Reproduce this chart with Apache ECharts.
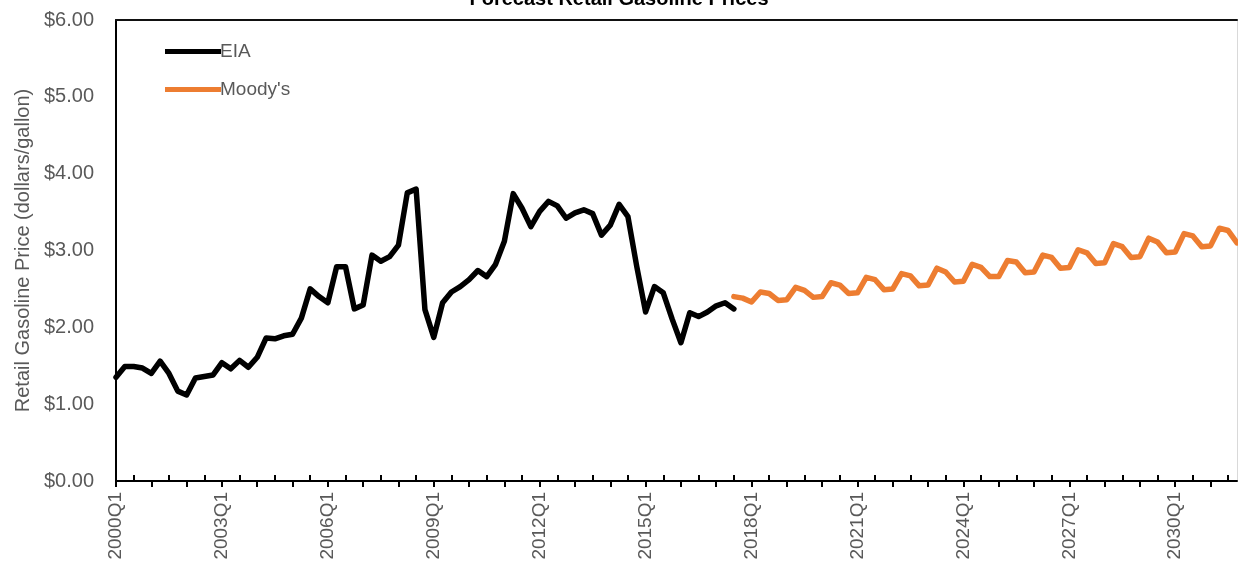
<!DOCTYPE html>
<html>
<head>
<meta charset="utf-8">
<script src="https://cdn.jsdelivr.net/npm/echarts@6/dist/echarts.min.js"></script>
<style>
  html, body { margin: 0; padding: 0; background: #fff; }
  #chart { width: 1238px; height: 573px; }
</style>
</head>
<body>
<div id="chart"></div>
<script>
// quarters 2000Q1 .. 2031Q4
const quarters = []
for (let y = 2000; y <= 2031; y++) {
  for (let q = 1; q <= 4; q++) quarters.push(y + 'Q' + q)
}

// EIA history, 2000Q1 .. 2017Q3
const eia = [
  1.35, 1.49, 1.49, 1.47, 1.40, 1.56, 1.40, 1.17, 1.12, 1.34,
  1.36, 1.38, 1.54, 1.46, 1.57, 1.48, 1.61, 1.86, 1.85, 1.89,
  1.91, 2.12, 2.50, 2.40, 2.32, 2.79, 2.79, 2.24, 2.29, 2.94,
  2.86, 2.92, 3.07, 3.75, 3.80, 2.23, 1.87, 2.32, 2.46, 2.53,
  2.62, 2.74, 2.66, 2.82, 3.12, 3.74, 3.55, 3.31, 3.51, 3.64,
  3.58, 3.42, 3.49, 3.53, 3.48, 3.20, 3.33, 3.60, 3.44, 2.79,
  2.20, 2.53, 2.45, 2.11, 1.80, 2.19, 2.14, 2.20, 2.28, 2.32,
  2.24
]

// Moody's forecast, 2017Q3 .. 2031Q4
const moodysStart = '2017Q3'
const moodys = [
  2.40, 2.38, 2.33, 2.46, 2.44, 2.35, 2.36, 2.52, 2.48, 2.39,
  2.40, 2.58, 2.55, 2.44, 2.45, 2.65, 2.62, 2.49, 2.50, 2.70,
  2.67, 2.54, 2.55, 2.77, 2.72, 2.59, 2.60, 2.82, 2.78, 2.66,
  2.66, 2.87, 2.85, 2.71, 2.72, 2.94, 2.91, 2.77, 2.78, 3.01,
  2.97, 2.83, 2.84, 3.09, 3.05, 2.91, 2.92, 3.16, 3.11, 2.97,
  2.98, 3.22, 3.19, 3.05, 3.06, 3.29, 3.26, 3.10
]

const yTicks = [0, 1, 2, 3, 4, 5, 6]

const offset = quarters.indexOf(moodysStart)
const moodysData = quarters.map((q, i) => (i >= offset ? moodys[i - offset] : null))

const font = "'Liberation Sans', Arial, sans-serif"
const grey = '#595959'

const chart = echarts.init(document.getElementById('chart'))
const option = {
  animation: false,
  backgroundColor: '#fff',
  title: {
    text: 'Forecast Retail Gasoline Prices',
    left: 'center',
    top: -16,
    textStyle: { fontFamily: font, fontSize: 20, fontWeight: 'bold', color: '#000' }
  },
  legend: {
    orient: 'vertical',
    left: 160,
    top: 37,
    icon: 'rect',
    itemWidth: 56,
    itemHeight: 5,
    itemGap: 19,
    data: ['EIA', "Moody's"],
    textStyle: { fontFamily: font, fontSize: 19, color: grey, padding: [0, 0, 0, -6] }
  },
  grid: { left: 116, right: 1, top: 20, bottom: 92 },
  xAxis: [
    {
      type: 'category',
      data: quarters,
      boundaryGap: false,
      position: 'bottom',
      axisLine: { lineStyle: { color: '#000', width: 2 } },
      axisTick: {
        interval: (i) => i % 4 === 0,
        length: 6,
        lineStyle: { color: '#000', width: 2 }
      },
      axisLabel: {
        interval: 11,
        rotate: 90,
        margin: 11,
        fontFamily: font,
        fontSize: 19,
        color: grey
      },
      splitLine: { show: false }
    },
    {
      type: 'category',
      data: quarters,
      boundaryGap: false,
      position: 'bottom',
      axisLine: { show: false },
      axisTick: {
        inside: true,
        interval: (i) => i % 4 === 2,
        length: 6,
        lineStyle: { color: '#000', width: 2 }
      },
      axisLabel: { show: false },
      splitLine: { show: false }
    },
    {
      type: 'category',
      data: quarters,
      boundaryGap: false,
      position: 'top',
      axisLine: { lineStyle: { color: '#111', width: 2 } },
      axisTick: { show: false },
      axisLabel: { show: false },
      splitLine: { show: false }
    }
  ],
  yAxis: [
    {
      type: 'value',
      min: yTicks[0],
      max: yTicks[yTicks.length - 1],
      interval: 1,
      name: 'Retail Gasoline Price (dollars/gallon)',
      nameLocation: 'middle',
      nameGap: 83,
      nameTextStyle: { fontFamily: font, fontSize: 20, color: grey },
      axisLine: { show: true, lineStyle: { color: '#000', width: 2 } },
      axisTick: { show: false },
      axisLabel: {
        margin: 22,
        fontFamily: font,
        fontSize: 20,
        color: grey,
        formatter: (v) => '$' + v.toFixed(2)
      },
      splitLine: { show: false }
    },
    {
      type: 'value',
      min: 0,
      max: 6,
      position: 'right',
      axisLine: { show: true, lineStyle: { color: '#d9d9d9', width: 1 } },
      axisTick: { show: false },
      axisLabel: { show: false },
      splitLine: { show: false }
    }
  ],
  series: [
    {
      name: 'EIA',
      type: 'line',
      data: eia,
      symbol: 'none',
      lineStyle: { color: '#000', width: 5.5, join: 'round', cap: 'round' },
      itemStyle: { color: '#000' },
      z: 3
    },
    {
      name: "Moody's",
      type: 'line',
      data: moodysData,
      symbol: 'none',
      lineStyle: { color: '#ED7D31', width: 5.5, join: 'round', cap: 'round' },
      itemStyle: { color: '#ED7D31' },
      z: 2
    }
  ]
}
chart.setOption(option)
</script>
</body>
</html>
